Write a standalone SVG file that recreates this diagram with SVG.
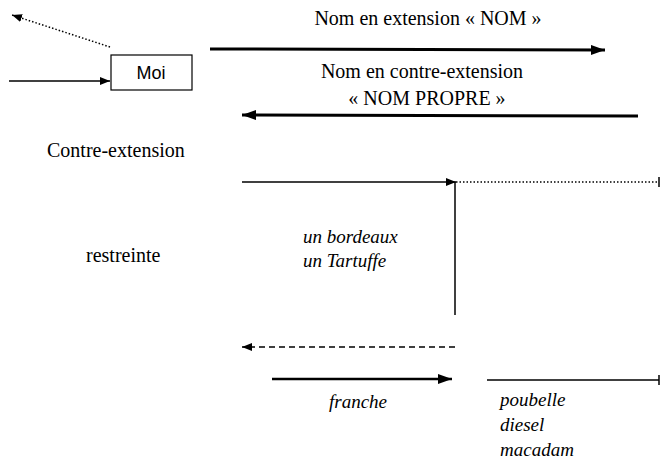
<svg xmlns="http://www.w3.org/2000/svg" width="660" height="462" viewBox="0 0 660 462">
<style>
.t{font-family:'Liberation Serif','Times New Roman','DejaVu Serif',serif;font-size:20px;fill:#000}
.i{font-family:'Liberation Serif','Times New Roman','DejaVu Serif',serif;font-size:19px;font-style:italic;fill:#000}
.s{font-family:'Liberation Sans',Arial,sans-serif;font-size:18px;fill:#000}
.l{stroke:#000;fill:none;stroke-width:1.5}
.k{stroke:#000;fill:none;stroke-width:3}
</style>
<defs>
<marker id="ah" markerWidth="10" markerHeight="8" refX="10" refY="4" orient="auto" markerUnits="userSpaceOnUse"><path d="M0,0 L10,4 L0,8 Z" fill="#000"/></marker>
<marker id="ahb" markerWidth="14" markerHeight="10" refX="14" refY="5" orient="auto" markerUnits="userSpaceOnUse"><path d="M0,0 L14,5 L0,10 Z" fill="#000"/></marker>
<marker id="tick" markerWidth="2" markerHeight="10" refX="1" refY="5" orient="auto" markerUnits="userSpaceOnUse"><path d="M1,0 L1,10" stroke="#000" stroke-width="1.5"/></marker>
</defs>
<g id="moi">
<rect x="111" y="55" width="81" height="35" fill="#fff" stroke="#000" stroke-width="1.2"/>
<text class="s" x="151" y="79" text-anchor="middle">Moi</text>
</g>
<g id="labels">
<text class="t" x="428" y="25" text-anchor="middle">Nom en extension « NOM »</text>
<text class="t" x="422" y="78" text-anchor="middle">Nom en contre-extension</text>
<text class="t" x="427" y="105" text-anchor="middle">« NOM PROPRE »</text>
<text class="t" x="47" y="157">Contre-extension</text>
<text class="t" x="86" y="262">restreinte</text>
<text class="i" x="303" y="243">un bordeaux</text>
<text class="i" x="303" y="267">un Tartuffe</text>
<text class="i" x="329" y="408">franche</text>
<text class="i" x="500" y="406">poubelle</text>
<text class="i" x="500" y="431">diesel</text>
<text class="i" x="500" y="456">macadam</text>
</g>
<g id="connectors">
<line class="l" x1="110" y1="47" x2="12" y2="15" stroke-dasharray="1.5,2" marker-end="url(#ah)"/>
<line class="l" x1="9" y1="81" x2="110" y2="81" marker-end="url(#ah)"/>
<line class="k" x1="210" y1="49" x2="605" y2="50" marker-end="url(#ahb)"/>
<line class="k" x1="638" y1="116" x2="242" y2="115" marker-end="url(#ahb)"/>
<line class="l" x1="242" y1="182" x2="456" y2="182" marker-end="url(#ah)"/>
<line class="l" x1="456" y1="182" x2="659" y2="182" stroke-dasharray="1.5,2" marker-end="url(#tick)"/>
<line class="l" x1="455" y1="182" x2="455" y2="315"/>
<line class="l" x1="455" y1="347" x2="242" y2="347" stroke-dasharray="6,4" marker-end="url(#ah)"/>
<line x1="272" y1="379" x2="452" y2="379" stroke="#000" stroke-width="2.5" marker-end="url(#ahb)"/>
<line class="l" x1="487" y1="380" x2="659" y2="380" marker-end="url(#tick)"/>
</g>
</svg>
